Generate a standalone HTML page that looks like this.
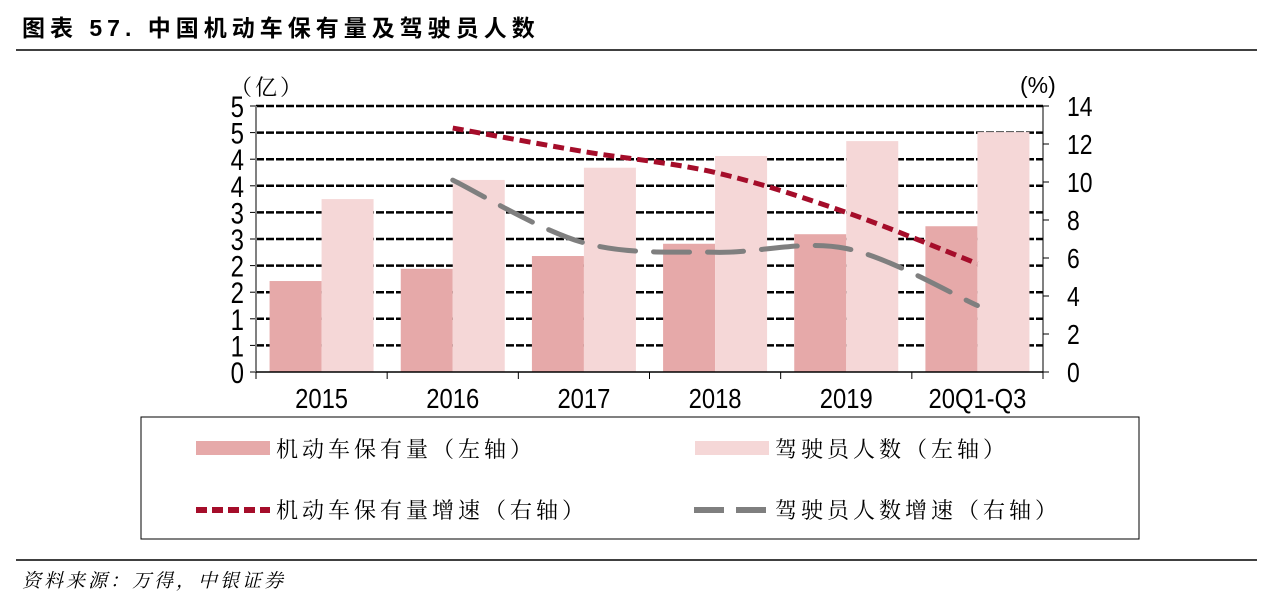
<!DOCTYPE html>
<html><head><meta charset="utf-8"><style>
body{margin:0;background:#fff;width:1269px;height:602px;overflow:hidden}
svg{display:block}
.cn{font-family:"Liberation Serif","Noto Serif CJK SC","Noto Sans CJK SC",serif}
.num{font-family:"Liberation Sans","Noto Sans CJK SC",sans-serif}
</style></head><body>
<svg id="chart" width="1269" height="602" viewBox="0 0 1269 602">
<text x="22" y="36" class="num" font-size="23" font-weight="bold" letter-spacing="5">图表 57. 中国机动车保有量及驾驶员人数</text>
<line x1="16" y1="50" x2="1257" y2="50" stroke="#000" stroke-width="1.5"/>
<g id="grid"></g>
<g id="bars"></g>
<g id="lines"></g>
<g id="axes"></g>
<text x="230" y="95" class="cn" font-size="22" letter-spacing="3">（亿）</text>
<text x="1020" y="93" class="num" font-size="23">(%)</text>
<rect x="141" y="417" width="998" height="122" fill="none" stroke="#000" stroke-width="1"/>
<g>
<rect x="196" y="441" width="74" height="14" fill="#e6a9a9"/>
<text x="276" y="457" class="cn" font-size="22" letter-spacing="4">机动车保有量（左轴）</text></g>
<g>
<rect x="695" y="441" width="74" height="14" fill="#f5d7d7"/>
<text x="775" y="457" class="cn" font-size="22" letter-spacing="4">驾驶员人数（左轴）</text></g>
<g>
<line x1="196" y1="510" x2="270" y2="510" stroke="#a50d2a" stroke-width="6" stroke-dasharray="11 5"/>
<text x="276" y="518" class="cn" font-size="22" letter-spacing="4">机动车保有量增速（右轴）</text></g>
<g>
<line x1="694" y1="510" x2="769" y2="510" stroke="#7f7f7f" stroke-width="6" stroke-dasharray="30 12"/>
<text x="775" y="518" class="cn" font-size="22" letter-spacing="4">驾驶员人数增速（右轴）</text></g>
<line x1="16" y1="560" x2="1257" y2="560" stroke="#000" stroke-width="1.5"/>
<text x="22" y="587" class="cn" font-size="19" font-style="italic" letter-spacing="3">资料来源：万得，中银证券</text>
</svg>
<script>
const categories=["2015","2016","2017","2018","2019","20Q1-Q3"];
const vehicles=[1.71,1.94,2.18,2.41,2.59,2.74];
const drivers=[3.25,3.61,3.84,4.06,4.34,4.51];
const vehicleGrowth=[null,12.84,11.6,10.5,8.4,5.7];
const driverGrowth=[null,10.1,6.8,6.3,6.5,3.5];
const leftTicks=["0","1","1","2","2","3","3","4","4","5","5"];
const rightTicks=["0","2","4","6","8","10","12","14"];
const NS="http://www.w3.org/2000/svg";
const X0=256,X1=1043,Y0=372,Y1=106;
const bw=(X1-X0)/categories.length;
const yL=v=>Y0-(v/5)*(Y0-Y1);
const yR=v=>Y0-(v/14)*(Y0-Y1);
const xc=i=>X0+bw*(i+0.5);
function mk(t,a,p){const e=document.createElementNS(NS,t);for(const k in a)e.setAttribute(k,a[k]);p.appendChild(e);return e;}
const grid=document.getElementById('grid'),bars=document.getElementById('bars'),lines=document.getElementById('lines'),axes=document.getElementById('axes');
leftTicks.forEach((t,i)=>{const v=i*0.5,y=yL(v);
 if(i>0){const g=mk('line',{x1:X0,x2:X1,y1:y,y2:y,stroke:'#000','stroke-width':2.5,'stroke-dasharray':'8 2'},grid);
 
 }
 mk('line',{x1:X0-6,x2:X0,y1:y,y2:y,stroke:'#000'},axes);
 const tx=mk('text',{x:0,y:0,'text-anchor':'end','font-size':30,class:'num',transform:`translate(${X0-12},${y+11}) scale(0.8,1)`},axes);tx.textContent=t;
 
 });
rightTicks.forEach((t,i)=>{const y=yR(+t);
 mk('line',{x1:X1,x2:X1+6,y1:y,y2:y,stroke:'#000'},axes);
 const tx=mk('text',{x:0,y:0,'font-size':28,class:'num',transform:`translate(${X1+24},${y+10}) scale(0.82,1)`},axes);tx.textContent=t;
 
 });
categories.forEach((c,i)=>{
 const cx=xc(i),w=52;
 const a=mk('rect',{x:cx-w,y:yL(vehicles[i]),width:w,height:Y0-yL(vehicles[i]),fill:'#e6a9a9'},bars);
 
 
 const b=mk('rect',{x:cx,y:yL(drivers[i]),width:w,height:Y0-yL(drivers[i]),fill:'#f5d7d7'},bars);
 
 
 const tx=mk('text',{x:0,y:0,'text-anchor':'middle','font-size':28,class:'num',transform:`translate(${cx},${408}) scale(0.85,1)`},axes);tx.textContent=c;
 
 
 mk('line',{x1:X0+bw*i,x2:X0+bw*i,y1:Y0,y2:Y0+7,stroke:'#000'},axes);
});
mk('line',{x1:X1,x2:X1,y1:Y0,y2:Y0+7,stroke:'#000'},axes);
mk('line',{x1:X0,x2:X0,y1:Y1,y2:Y0,stroke:'#808080','stroke-width':2},axes);
mk('line',{x1:X1,x2:X1,y1:Y1,y2:Y0,stroke:'#000','stroke-width':1},axes);
mk('line',{x1:X0,x2:X1,y1:Y0,y2:Y0,stroke:'#000','stroke-width':1.5},axes);
function smooth(vals){const p=[];vals.forEach((v,i)=>{if(v!=null)p.push([xc(i),yR(v)]);});
 let d='M'+p[0][0]+','+p[0][1];
 for(let i=0;i<p.length-1;i++){const p0=p[i-1]||p[i],p1=p[i],p2=p[i+1],p3=p[i+2]||p2;
  const c1=[p1[0]+(p2[0]-p0[0])/6,p1[1]+(p2[1]-p0[1])/6],c2=[p2[0]-(p3[0]-p1[0])/6,p2[1]-(p3[1]-p1[1])/6];
  d+=' C'+c1+' '+c2+' '+p2;}
 return d;}
const l1=mk('path',{d:smooth(vehicleGrowth),fill:'none',stroke:'#a50d2a','stroke-width':5,'stroke-dasharray':'11 6'},lines);


const l2=mk('path',{d:smooth(driverGrowth),fill:'none',stroke:'#7f7f7f','stroke-width':5,'stroke-dasharray':'36 18','stroke-linecap':'round'},lines);


</script>
</body></html>
